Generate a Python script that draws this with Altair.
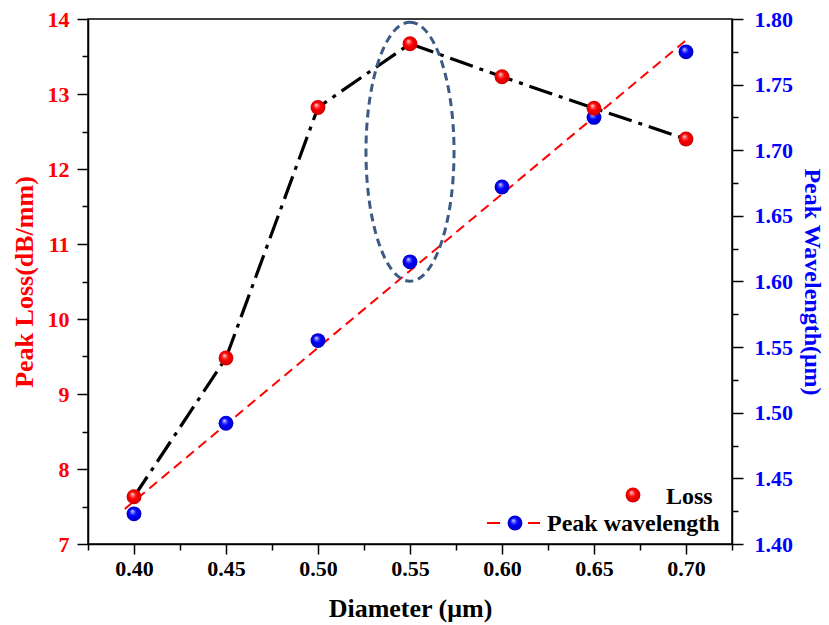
import altair as alt
import pandas as pd

# ---------------- data ----------------
diameter = [0.40, 0.45, 0.50, 0.55, 0.60, 0.65, 0.70]
peak_loss = [7.63, 9.48, 12.82, 13.67, 13.23, 12.81, 12.40]
peak_wavelength = [1.423, 1.492, 1.555, 1.615, 1.672, 1.725, 1.775]

x_major = [0.40, 0.45, 0.50, 0.55, 0.60, 0.65, 0.70]
x_minor = [0.375, 0.425, 0.475, 0.525, 0.575, 0.625, 0.675, 0.725]
loss_major = [7, 8, 9, 10, 11, 12, 13, 14]
loss_minor = [7.5, 8.5, 9.5, 10.5, 11.5, 12.5, 13.5]
wl_major = [1.40, 1.45, 1.50, 1.55, 1.60, 1.65, 1.70, 1.75, 1.80]
wl_minor = [1.425, 1.475, 1.525, 1.575, 1.625, 1.675, 1.725, 1.775]

highlight_d = [0.55]
highlight_loss = [12.23]
legend_labels = ["Loss", "Peak wavelength"]

FONT = "Liberation Serif"
RED = "#ff0000"
BLUE = "#0000ff"

df = pd.DataFrame({"d": diameter, "loss": peak_loss, "w": peak_wavelength})
hl = pd.DataFrame({"d": highlight_d, "loss": highlight_loss})

red_ball = {"gradient": "radial", "x1": 0.38, "y1": 0.32, "r1": 0.0,
            "x2": 0.5, "y2": 0.5, "r2": 0.55,
            "stops": [{"offset": 0.0, "color": "#ffffff"},
                      {"offset": 0.18, "color": "#ff7070"},
                      {"offset": 0.45, "color": "#ff0000"},
                      {"offset": 1.0, "color": "#c80000"}]}
blue_ball = {"gradient": "radial", "x1": 0.38, "y1": 0.32, "r1": 0.0,
             "x2": 0.5, "y2": 0.5, "r2": 0.55,
             "stops": [{"offset": 0.0, "color": "#ffffff"},
                       {"offset": 0.18, "color": "#7070ff"},
                       {"offset": 0.45, "color": "#0000ff"},
                       {"offset": 1.0, "color": "#0000b8"}]}

xs = alt.Scale(domain=[0.375, 0.725], nice=False, zero=False)
ls = alt.Scale(domain=[7, 14], nice=False, zero=False)
ws = alt.Scale(domain=[1.40, 1.80], nice=False, zero=False)

x_major_axis = alt.Axis(values=x_major, format=".2f", orient="bottom", tickSize=10,
                        labelPadding=4, title="Diameter (\u03bcm)", titlePadding=16,
                        labelColor="black", titleColor="black")
x_minor_axis = alt.Axis(values=x_minor, orient="bottom", tickSize=6, labels=False,
                        domain=False, title=None)
loss_major_axis = alt.Axis(values=loss_major, format="d", orient="left", tickSize=11,
                           labelPadding=8, labelColor=RED, titleColor=RED,
                           title="Peak Loss(dB/mm)", titlePadding=10)
loss_minor_axis = alt.Axis(values=loss_minor, orient="left", tickSize=6, labels=False,
                           domain=False, title=None)
wl_major_axis = alt.Axis(values=wl_major, format=".2f", orient="right", tickSize=11,
                         labelPadding=11, labelColor=BLUE, titleColor=BLUE,
                         title="Peak Wavelength(\u03bcm)", titlePadding=7, titleFontSize=24)
wl_minor_axis = alt.Axis(values=wl_minor, orient="right", tickSize=6, labels=False,
                         domain=False, title=None)

base = alt.Chart(df)

# wavelength: linear fit (red dashed) + blue spheres
wave_fit = base.transform_regression("d", "w", method="linear", extent=[0.395, 0.70]).mark_line(
    color=RED, strokeWidth=2, strokeDash=[10, 6]
).encode(
    x=alt.X("d:Q", scale=xs, axis=None),
    y=alt.Y("w:Q", scale=ws, axis=wl_major_axis),
)
wave_pts = base.mark_circle(size=220, fill=blue_ball, opacity=1, strokeWidth=0).encode(
    x=alt.X("d:Q", scale=xs, axis=None),
    y=alt.Y("w:Q", scale=ws, axis=wl_minor_axis),
)
wave_layer = alt.layer(wave_fit, wave_pts).resolve_axis(y="independent")

# loss: dash-dot black line + red spheres + dashed ellipse highlight
loss_line = base.mark_line(color="black", strokeWidth=3.2, strokeDash=[24, 7, 4, 7]).encode(
    x=alt.X("d:Q", scale=xs, axis=x_major_axis),
    y=alt.Y("loss:Q", scale=ls, axis=loss_major_axis),
)
ellipse_path = ("M 0,-1 C 0.1878,-1 0.34,-0.5523 0.34,0 C 0.34,0.5523 0.1878,1 0,1 "
                "C -0.1878,1 -0.34,0.5523 -0.34,0 C -0.34,-0.5523 -0.1878,-1 0,-1 Z")
ellipse = alt.Chart(hl).mark_point(
    shape=ellipse_path, size=67081, filled=False, stroke="#3c5a82",
    strokeWidth=3, strokeDash=[8, 5], opacity=1
).encode(
    x=alt.X("d:Q", scale=xs, axis=None),
    y=alt.Y("loss:Q", scale=ls, axis=None),
)
loss_pts = base.mark_circle(size=220, fill=red_ball, opacity=1, strokeWidth=0).encode(
    x=alt.X("d:Q", scale=xs, axis=x_minor_axis),
    y=alt.Y("loss:Q", scale=ls, axis=loss_minor_axis),
)
loss_layer = alt.layer(loss_line, ellipse, loss_pts).resolve_axis(x="independent", y="independent")

# manual legend
leg_df1 = pd.DataFrame({"label": [legend_labels[0]]})
leg_df2 = pd.DataFrame({"label": [legend_labels[1]]})
leg_ball1 = alt.Chart(leg_df1).mark_circle(size=220, fill=red_ball, opacity=1, strokeWidth=0).encode(
    x=alt.value(545), y=alt.value(476))
leg_text1 = alt.Chart(leg_df1).mark_text(
    align="left", baseline="middle", font=FONT, fontWeight="bold", fontSize=24, color="black"
).encode(x=alt.value(578), y=alt.value(478), text="label:N")
leg_dash_a = alt.Chart(leg_df2).mark_rule(color=RED, strokeWidth=2).encode(
    x=alt.value(399), x2=alt.value(412), y=alt.value(504))
leg_dash_b = alt.Chart(leg_df2).mark_rule(color=RED, strokeWidth=2).encode(
    x=alt.value(440), x2=alt.value(452), y=alt.value(504))
leg_ball2 = alt.Chart(leg_df2).mark_circle(size=220, fill=blue_ball, opacity=1, strokeWidth=0).encode(
    x=alt.value(427), y=alt.value(504))
leg_text2 = alt.Chart(leg_df2).mark_text(
    align="left", baseline="middle", font=FONT, fontWeight="bold", fontSize=24, color="black"
).encode(x=alt.value(459), y=alt.value(505), text="label:N")

chart = alt.layer(
    wave_layer, loss_layer,
    leg_ball1, leg_text1, leg_dash_a, leg_dash_b, leg_ball2, leg_text2
).resolve_scale(y="independent").resolve_axis(x="independent", y="independent").properties(
    width=644, height=525,
    autosize=alt.AutoSizeParams(type="none"),
    padding={"left": 88, "top": 19, "right": 97, "bottom": 81},
    background="white",
).configure_axis(
    grid=False, domainColor="black", domainWidth=1.5, tickColor="black", tickWidth=1.5,
    labelFont=FONT, labelFontWeight="bold", labelFontSize=22,
    titleFont=FONT, titleFontWeight="bold", titleFontSize=26,
).configure_view(stroke="black", strokeWidth=1.5)

chart.save("out.html", embed_options={"renderer": "svg", "actions": False})
